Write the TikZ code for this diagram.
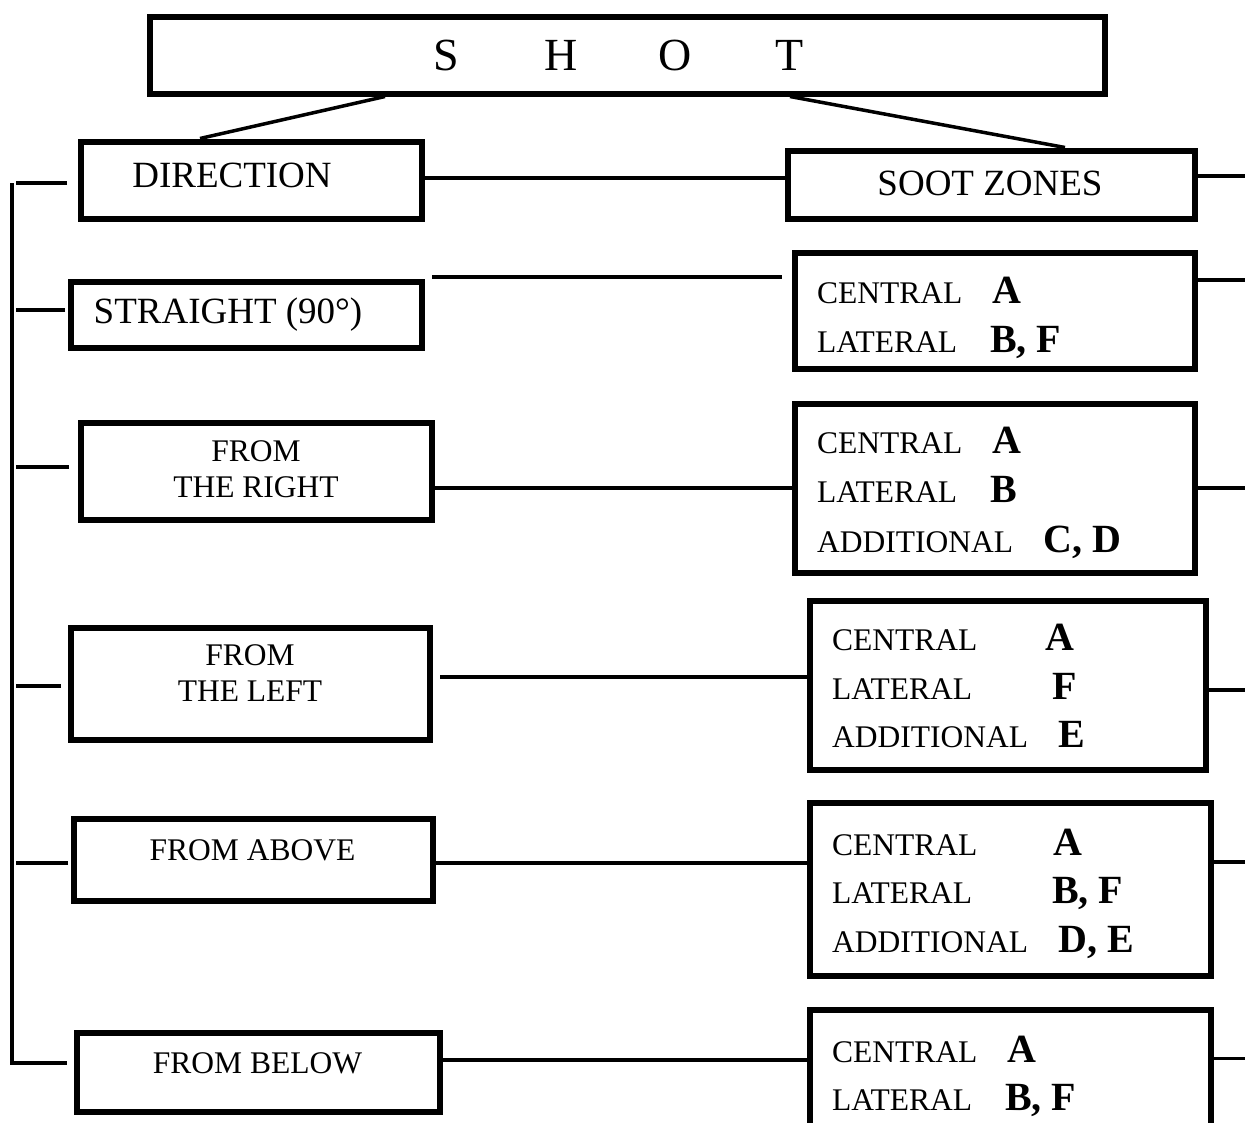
\documentclass[tikz,border=0pt]{standalone}
\usepackage{fontspec}
\setmainfont{Liberation Serif}
\usetikzlibrary{calc}
\newcommand{\zv}[1]{{\fontsize{40}{44}\selectfont\bfseries #1}}

\begin{document}
\begin{tikzpicture}[
      x=1pt, y=-1pt,
      box/.style={draw, line width=6pt, inner sep=0pt},
      link/.style={line width=3.5pt},
      big/.style={inner sep=0pt, anchor=base, font=\fontsize{37}{44}\selectfont},
      small/.style={inner sep=0pt, align=center, font=\fontsize{31.5}{36}\selectfont},
      zline/.style={inner sep=0pt, anchor=base west, font=\fontsize{31.5}{36}\selectfont}
  ]
    \useasboundingbox (0,0) rectangle (1245,1122);

    % boxes
    \node[box, minimum width=955pt, minimum height=77pt] (shot) at (627,55) {};
    \node[box, minimum width=341pt, minimum height=77pt] (dir) at (251,180) {};
    \node[box, minimum width=407pt, minimum height=68pt] (soot) at (991,184.5) {};
    \node[box, minimum width=351pt, minimum height=66pt] (straight) at (246,314.5) {};
    \node[box, minimum width=351pt, minimum height=97pt] (right) at (256,471) {};
    \node[box, minimum width=359pt, minimum height=112pt] (left) at (250,683.5) {};
    \node[box, minimum width=359pt, minimum height=82pt] (above) at (253,859.5) {};
    \node[box, minimum width=363pt, minimum height=79pt] (below) at (258,1072) {};
    \node[box, minimum width=400pt, minimum height=116pt] (z1) at (994.5,310.5) {};
    \node[box, minimum width=400pt, minimum height=169pt] (z2) at (994.5,488) {};
    \node[box, minimum width=396pt, minimum height=169pt] (z3) at (1007.5,685) {};
    \node[box, minimum width=401pt, minimum height=173pt] (z4) at (1010,889) {};
    \node[box, minimum width=401pt, minimum height=131pt] (z5) at (1010,1075) {};

    % texts
    \node[inner sep=0pt, anchor=base, font=\fontsize{46}{50}\selectfont] (tshot) at (618,70)
      {\makebox[114.5pt]{S}\makebox[114.5pt]{H}\makebox[114.5pt]{O}\makebox[114.5pt]{T}};
    \node[big] (tdir) at (232,187) {DIRECTION};
    \node[big] (tsoot) at (990,195) {SOOT ZONES};
    \node[big] (tstraight) at (228,323) {STRAIGHT (90°)};
    \node[small] (tright) at (256,469) {FROM\\THE RIGHT};
    \node[small] (tleft) at (250,673) {FROM\\THE LEFT};
    \node[small, anchor=base] (tabove) at (252.5,860) {FROM ABOVE};
    \node[small, anchor=base] (tbelow) at (257.5,1073) {FROM BELOW};

    \foreach \nm/\x/\y/\w/\lab/\val in {
        z1c/817/303/175/CENTRAL/A, z1l/817/352/173/LATERAL/{B, F},
        z2c/817/453/175/CENTRAL/A, z2l/817/502/173/LATERAL/B, z2a/817/552/226/ADDITIONAL/{C, D},
        z3c/832/650/213/CENTRAL/A, z3l/832/699/220/LATERAL/F, z3a/832/747/226/ADDITIONAL/E,
        z4c/832/855/221/CENTRAL/A, z4l/832/903/220/LATERAL/{B, F}, z4a/832/952/226/ADDITIONAL/{D, E},
        z5c/832/1062/175/CENTRAL/A, z5l/832/1110/173/LATERAL/{B, F}}
      \node[zline] (\nm) at (\x,\y) {\makebox[\w pt][l]{\lab}\zv{\val}};

    % links from the top box
    \draw[link] ([xshift=-242pt]shot.south) -- ([xshift=-51pt]dir.north);
    \draw[link] ([xshift=163pt]shot.south) -- ([xshift=74pt]soot.north);

    % links across
    \coordinate (m0) at ([yshift=2pt]dir.east);
    \coordinate (m1) at ([xshift=7.5pt,yshift=1.5pt]straight.north east);
    \coordinate (m2) at ([yshift=-17pt]right.east);
    \coordinate (m3) at ([xshift=7.5pt,yshift=6.5pt]left.east);
    \coordinate (m4) at ([yshift=-3.5pt]above.east);
    \coordinate (m5) at ([yshift=12pt]below.east);
    \draw[link] (m0) -- (m0 -| soot.west);
    \draw[link] (m1) -- ($(m1 -| z1.west)+(-9.5,0)$);
    \draw[link] (m2) -- (m2 -| z2.west);
    \draw[link] (m3) -- (m3 -| z3.west);
    \draw[link] (m4) -- (m4 -| z4.west);
    \draw[link] (m5) -- (m5 -| z5.west);

    % stubs on the right
    \coordinate (edge) at (1250,0);
    \foreach \b/\s in {soot/8.5, z1/30.5, z2/0, z3/-5, z4/27, z5/16.75} {
      \coordinate (r\b) at ([yshift=\s pt]\b.east);
      \draw[link] (r\b) -- (r\b -| edge);
    }

    % bracket on the left
    \coordinate (sp) at (12,183);
    \foreach \b/\g/\s in {dir/10.5/-3, straight/2.5/4.5, right/8.5/4, left/6.5/-2.5, above/2.5/-3.5} {
      \coordinate (l\b) at ([xshift=-\g pt, yshift=\s pt]\b.west);
      \draw[link] (l\b) -- ($(l\b -| sp)+(4,0)$);
    }
    \coordinate (lbelow) at ([xshift=-6.5pt,yshift=9pt]below.west);
    \draw[link] (sp) -- (sp |- lbelow) -- (lbelow);
  \end{tikzpicture}
\end{document}
